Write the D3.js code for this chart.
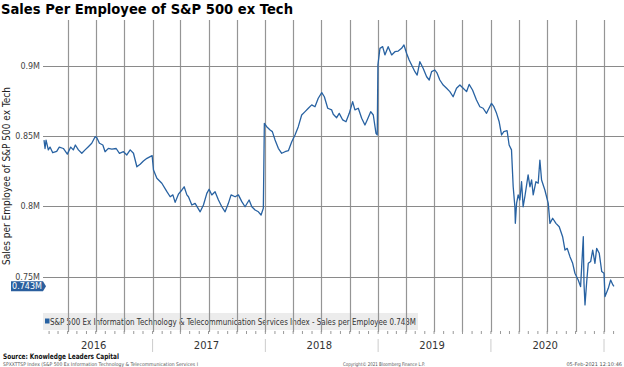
<!DOCTYPE html>
<html>
<head>
<meta charset="utf-8">
<script src="https://cdn.jsdelivr.net/npm/d3@7"></script>
<style>
  body { margin: 0; background: #fff; }
  svg { display: block; font-family: "DejaVu Sans", sans-serif; }
</style>
</head>
<body>
<svg id="chart" width="624" height="367"></svg>
<script>
// position of each reading in decimal years
const yearPos = [
  2016.040, 2016.049, 2016.058, 2016.078, 2016.093, 2016.117, 2016.152, 2016.175, 2016.211, 2016.246,
  2016.276, 2016.299, 2016.317, 2016.344, 2016.374, 2016.403, 2016.432, 2016.462, 2016.492, 2016.507,
  2016.530, 2016.560, 2016.580, 2016.609, 2016.640, 2016.678, 2016.707, 2016.742, 2016.772, 2016.802,
  2016.831, 2016.861, 2016.890, 2016.919, 2016.950, 2016.979, 2016.996, 2017.008, 2017.038, 2017.082,
  2017.127, 2017.156, 2017.180, 2017.200, 2017.229, 2017.260, 2017.280, 2017.304, 2017.318, 2017.348,
  2017.377, 2017.422, 2017.451, 2017.481, 2017.501, 2017.525, 2017.554, 2017.584, 2017.614, 2017.643,
  2017.672, 2017.696, 2017.732, 2017.761, 2017.791, 2017.820, 2017.856, 2017.880, 2017.909, 2017.938,
  2017.962, 2017.982, 2017.991, 2018.012, 2018.042, 2018.062, 2018.086, 2018.115, 2018.145, 2018.174,
  2018.204, 2018.234, 2018.263, 2018.292, 2018.322, 2018.352, 2018.381, 2018.411, 2018.440, 2018.469,
  2018.500, 2018.523, 2018.553, 2018.588, 2018.602, 2018.632, 2018.655, 2018.686, 2018.715, 2018.744,
  2018.774, 2018.794, 2018.824, 2018.854, 2018.883, 2018.903, 2018.934, 2018.957, 2018.981, 2018.992,
  2018.998, 2019.016, 2019.040, 2019.060, 2019.089, 2019.120, 2019.149, 2019.178, 2019.208, 2019.229,
  2019.252, 2019.275, 2019.297, 2019.326, 2019.346, 2019.370, 2019.399, 2019.430, 2019.453, 2019.474,
  2019.503, 2019.523, 2019.547, 2019.577, 2019.607, 2019.636, 2019.665, 2019.695, 2019.725, 2019.754,
  2019.784, 2019.807, 2019.837, 2019.872, 2019.902, 2019.931, 2019.961, 2019.975, 2020.005, 2020.026,
  2020.050, 2020.073, 2020.094, 2020.114, 2020.143, 2020.161, 2020.182, 2020.197, 2020.212, 2020.216,
  2020.227, 2020.241, 2020.256, 2020.271, 2020.285, 2020.300, 2020.329, 2020.345, 2020.360, 2020.374,
  2020.398, 2020.418, 2020.433, 2020.448, 2020.477, 2020.507, 2020.522, 2020.546, 2020.575, 2020.604,
  2020.634, 2020.655, 2020.675, 2020.699, 2020.723, 2020.743, 2020.772, 2020.793, 2020.817, 2020.823,
  2020.832, 2020.847, 2020.861, 2020.882, 2020.900, 2020.920, 2020.935, 2020.958, 2020.980, 2021.000,
  2021.009, 2021.038, 2021.059, 2021.079, 2021.088
];

// sales per employee, in millions
const salesPerEmp = [
  0.847, 0.841, 0.847, 0.840, 0.842, 0.838, 0.839, 0.842, 0.841, 0.837,
  0.842, 0.840, 0.8435, 0.840, 0.8376, 0.840, 0.8423, 0.8447, 0.8494, 0.8487,
  0.8447, 0.8435, 0.8387, 0.8411, 0.8406, 0.841, 0.8376, 0.8387, 0.8364, 0.840,
  0.8376, 0.828, 0.8298, 0.8321, 0.834, 0.8352, 0.8359, 0.8257, 0.8198, 0.8163,
  0.8103, 0.8067, 0.808, 0.8027, 0.8085, 0.8115, 0.8138, 0.808, 0.8067, 0.8008,
  0.802, 0.796, 0.8008, 0.8091, 0.812, 0.808, 0.8103, 0.8044, 0.7996, 0.796,
  0.802, 0.808, 0.8067, 0.808, 0.8032, 0.7996, 0.8044, 0.7996, 0.7973, 0.796,
  0.7937, 0.7985, 0.8589, 0.8565, 0.8541, 0.853, 0.847, 0.8411, 0.8376, 0.8387,
  0.8394, 0.8458, 0.8506, 0.8565, 0.8648, 0.8672, 0.8696, 0.872, 0.8707, 0.8767,
  0.8807, 0.8778, 0.8696, 0.8684, 0.8653, 0.8629, 0.866, 0.8613, 0.860, 0.866,
  0.8743, 0.8684, 0.8696, 0.8625, 0.8577, 0.8613, 0.8672, 0.8648, 0.8518, 0.8506,
  0.9004, 0.9122, 0.9134, 0.9075, 0.9134, 0.9075, 0.9098, 0.9103, 0.9122, 0.9146,
  0.9087, 0.9039, 0.9004, 0.8956, 0.8932, 0.9027, 0.898, 0.892, 0.8897, 0.8956,
  0.8968, 0.8945, 0.8897, 0.8861, 0.8838, 0.8814, 0.8778, 0.8838, 0.8861, 0.8838,
  0.8814, 0.8866, 0.8826, 0.8755, 0.8707, 0.8696, 0.866, 0.8684, 0.8731, 0.8707,
  0.866, 0.860, 0.8506, 0.853, 0.8537, 0.8435, 0.840, 0.8138, 0.7996, 0.7878,
  0.802, 0.808, 0.8044, 0.8174, 0.7996, 0.8067, 0.8222, 0.8138, 0.8186, 0.808,
  0.8174, 0.8163, 0.8328, 0.8186, 0.8115, 0.802, 0.7878, 0.7914, 0.7878, 0.7854,
  0.7783, 0.7688, 0.770, 0.7641, 0.7594, 0.7523, 0.7475, 0.7428, 0.7783, 0.7452,
  0.7298, 0.7463, 0.7594, 0.7606, 0.7688, 0.7594, 0.770, 0.7665, 0.7535, 0.7523,
  0.7357, 0.7416, 0.7475, 0.744, 0.743
];

const yTicks = [0.75, 0.8, 0.85, 0.9];
const yTickLabels = ['0.75M', '0.8M', '0.85M', '0.9M'];
const yearLabels = ['2016', '2017', '2018', '2019', '2020'];
const lastValue = 0.743;

const titleText = 'Sales Per Employee of S&P 500 ex Tech';
const yTitle = 'Sales per Employee of S&P 500 ex Tech';
const legendText = 'S&P 500 Ex Information Technology & Telecommunication Services Index - Sales per Employee 0.743M';

const lineColor = '#2862a2';
const gridColor = '#8a8a8a';

// decimal year -> Date
function toDate(t) {
  const y = Math.floor(t);
  const a = new Date(y, 0, 1), b = new Date(y + 1, 0, 1);
  return new Date(+a + (t - y) * (b - a));
}

const data = yearPos.map((t, i) => ({ date: toDate(t), value: salesPerEmp[i] }));

const svg = d3.select('#chart');
const plot = { left: 43, right: 624, top: 20, bottom: 332 };

const x = d3.scaleTime()
  .domain([new Date(2016, 0, 1), new Date(2021, 0, 1)])
  .range([39.5, 604]);

const y = d3.scaleLinear()
  .domain([0.75, 0.9])
  .range([276.5, 65.5]);

// legend band sits under the grid
const legend = svg.append('g');
legend.append('rect')
  .attr('x', 43).attr('y', 313).attr('width', 375).attr('height', 17)
  .attr('fill', '#ececec');
legend.append('rect')
  .attr('x', 45).attr('y', 318.5).attr('width', 4.5).attr('height', 5)
  .attr('fill', lineColor);
legend.append('text')
  .attr('x', 50).attr('y', 324.5)
  .attr('font-size', 8.5).attr('fill', '#333')
  .attr('textLength', 366).attr('lengthAdjust', 'spacingAndGlyphs')
  .text(legendText);

// quarterly vertical grid
const quarters = d3.timeMonth.every(3).range(new Date(2016, 1, 1), new Date(2021, 2, 1));
svg.append('g').selectAll('line')
  .data(quarters)
  .join('line')
  .attr('x1', d => Math.round(x(d)) + 0.5).attr('x2', d => Math.round(x(d)) + 0.5)
  .attr('y1', plot.top).attr('y2', plot.bottom)
  .attr('stroke', '#959595').attr('stroke-width', 1.2);

// horizontal grid
svg.append('g').selectAll('line')
  .data(yTicks)
  .join('line')
  .attr('x1', plot.left).attr('x2', plot.right)
  .attr('y1', d => Math.round(y(d)) + 0.5).attr('y2', d => Math.round(y(d)) + 0.5)
  .attr('stroke', gridColor).attr('stroke-width', 1.2);

// y tick labels
svg.append('g').selectAll('text')
  .data(yTicks)
  .join('text')
  .attr('x', 40).attr('y', d => y(d) + 3)
  .attr('text-anchor', 'end')
  .attr('font-size', 8).attr('fill', '#444')
  .text((d, i) => yTickLabels[i]);

// monthly minor ticks along the bottom
const months = d3.timeMonth.range(new Date(2016, 1, 1), new Date(2021, 2, 1));
svg.append('g').selectAll('line')
  .data(months)
  .join('line')
  .attr('x1', d => x(d)).attr('x2', d => x(d))
  .attr('y1', plot.bottom - 1).attr('y2', plot.bottom + 2)
  .attr('stroke', '#999').attr('stroke-width', 1);

// year separators and labels
const years = d3.timeYear.range(new Date(2017, 0, 1), new Date(2021, 0, 2));
svg.append('g').selectAll('line')
  .data(years)
  .join('line')
  .attr('x1', d => x(d)).attr('x2', d => x(d))
  .attr('y1', 339).attr('y2', 352)
  .attr('stroke', '#ccc').attr('stroke-width', 1);

svg.append('g').selectAll('text')
  .data(yearLabels)
  .join('text')
  .attr('x', d => x(new Date(+d, 6, 1)) - 2)
  .attr('y', 349)
  .attr('text-anchor', 'middle')
  .attr('font-size', 10).attr('fill', '#333')
  .text(d => d);

// the series
svg.append('clipPath').attr('id', 'clip')
  .append('rect')
  .attr('x', plot.left).attr('y', plot.top)
  .attr('width', plot.right - plot.left).attr('height', plot.bottom - plot.top);

svg.append('path')
  .datum(data)
  .attr('clip-path', 'url(#clip)')
  .attr('fill', 'none')
  .attr('stroke', lineColor)
  .attr('stroke-width', 1.3)
  .attr('stroke-linejoin', 'round')
  .attr('d', d3.line().x(d => x(d.date)).y(d => y(d.value)));

// last value tag on the axis
const ty = y(lastValue);
svg.append('path')
  .attr('d', `M11,${ty - 5} H43 L46,${ty} L43,${ty + 5} H11 Z`)
  .attr('fill', '#2b5f9e');
svg.append('text')
  .attr('x', 27).attr('y', ty + 3)
  .attr('text-anchor', 'middle')
  .attr('font-size', 8).attr('fill', '#fff')
  .text(lastValue + 'M');

// axis title
svg.append('text')
  .attr('transform', 'translate(10,176) rotate(-90)')
  .attr('text-anchor', 'middle')
  .attr('font-size', 10.5).attr('fill', '#222')
  .attr('textLength', 178).attr('lengthAdjust', 'spacingAndGlyphs')
  .text(yTitle);

// title
svg.append('text')
  .attr('x', 1).attr('y', 14)
  .attr('font-size', 14).attr('font-weight', 'bold').attr('fill', '#000')
  .attr('textLength', 292).attr('lengthAdjust', 'spacingAndGlyphs')
  .text(titleText);

// footer
svg.append('text')
  .attr('x', 3).attr('y', 359)
  .attr('font-size', 7.5).attr('font-weight', 'bold').attr('fill', '#111')
  .attr('textLength', 116).attr('lengthAdjust', 'spacingAndGlyphs')
  .text('Source: Knowledge Leaders Capital');

svg.append('text')
  .attr('x', 3).attr('y', 365.5)
  .attr('font-size', 5).attr('fill', '#555')
  .attr('textLength', 195).attr('lengthAdjust', 'spacingAndGlyphs')
  .text('SPXXTTSP Index (S&P 500 Ex Information Technology & Telecommunication Services I');

svg.append('text')
  .attr('x', 343).attr('y', 365.5)
  .attr('font-size', 5).attr('fill', '#555')
  .attr('textLength', 82).attr('lengthAdjust', 'spacingAndGlyphs')
  .text('Copyright\u00a9 2021 Bloomberg Finance L.P.');

svg.append('text')
  .attr('x', 622).attr('y', 365.5)
  .attr('text-anchor', 'end')
  .attr('font-size', 5).attr('fill', '#555')
  .text('05-Feb-2021 12:10:46');
</script>
</body>
</html>
